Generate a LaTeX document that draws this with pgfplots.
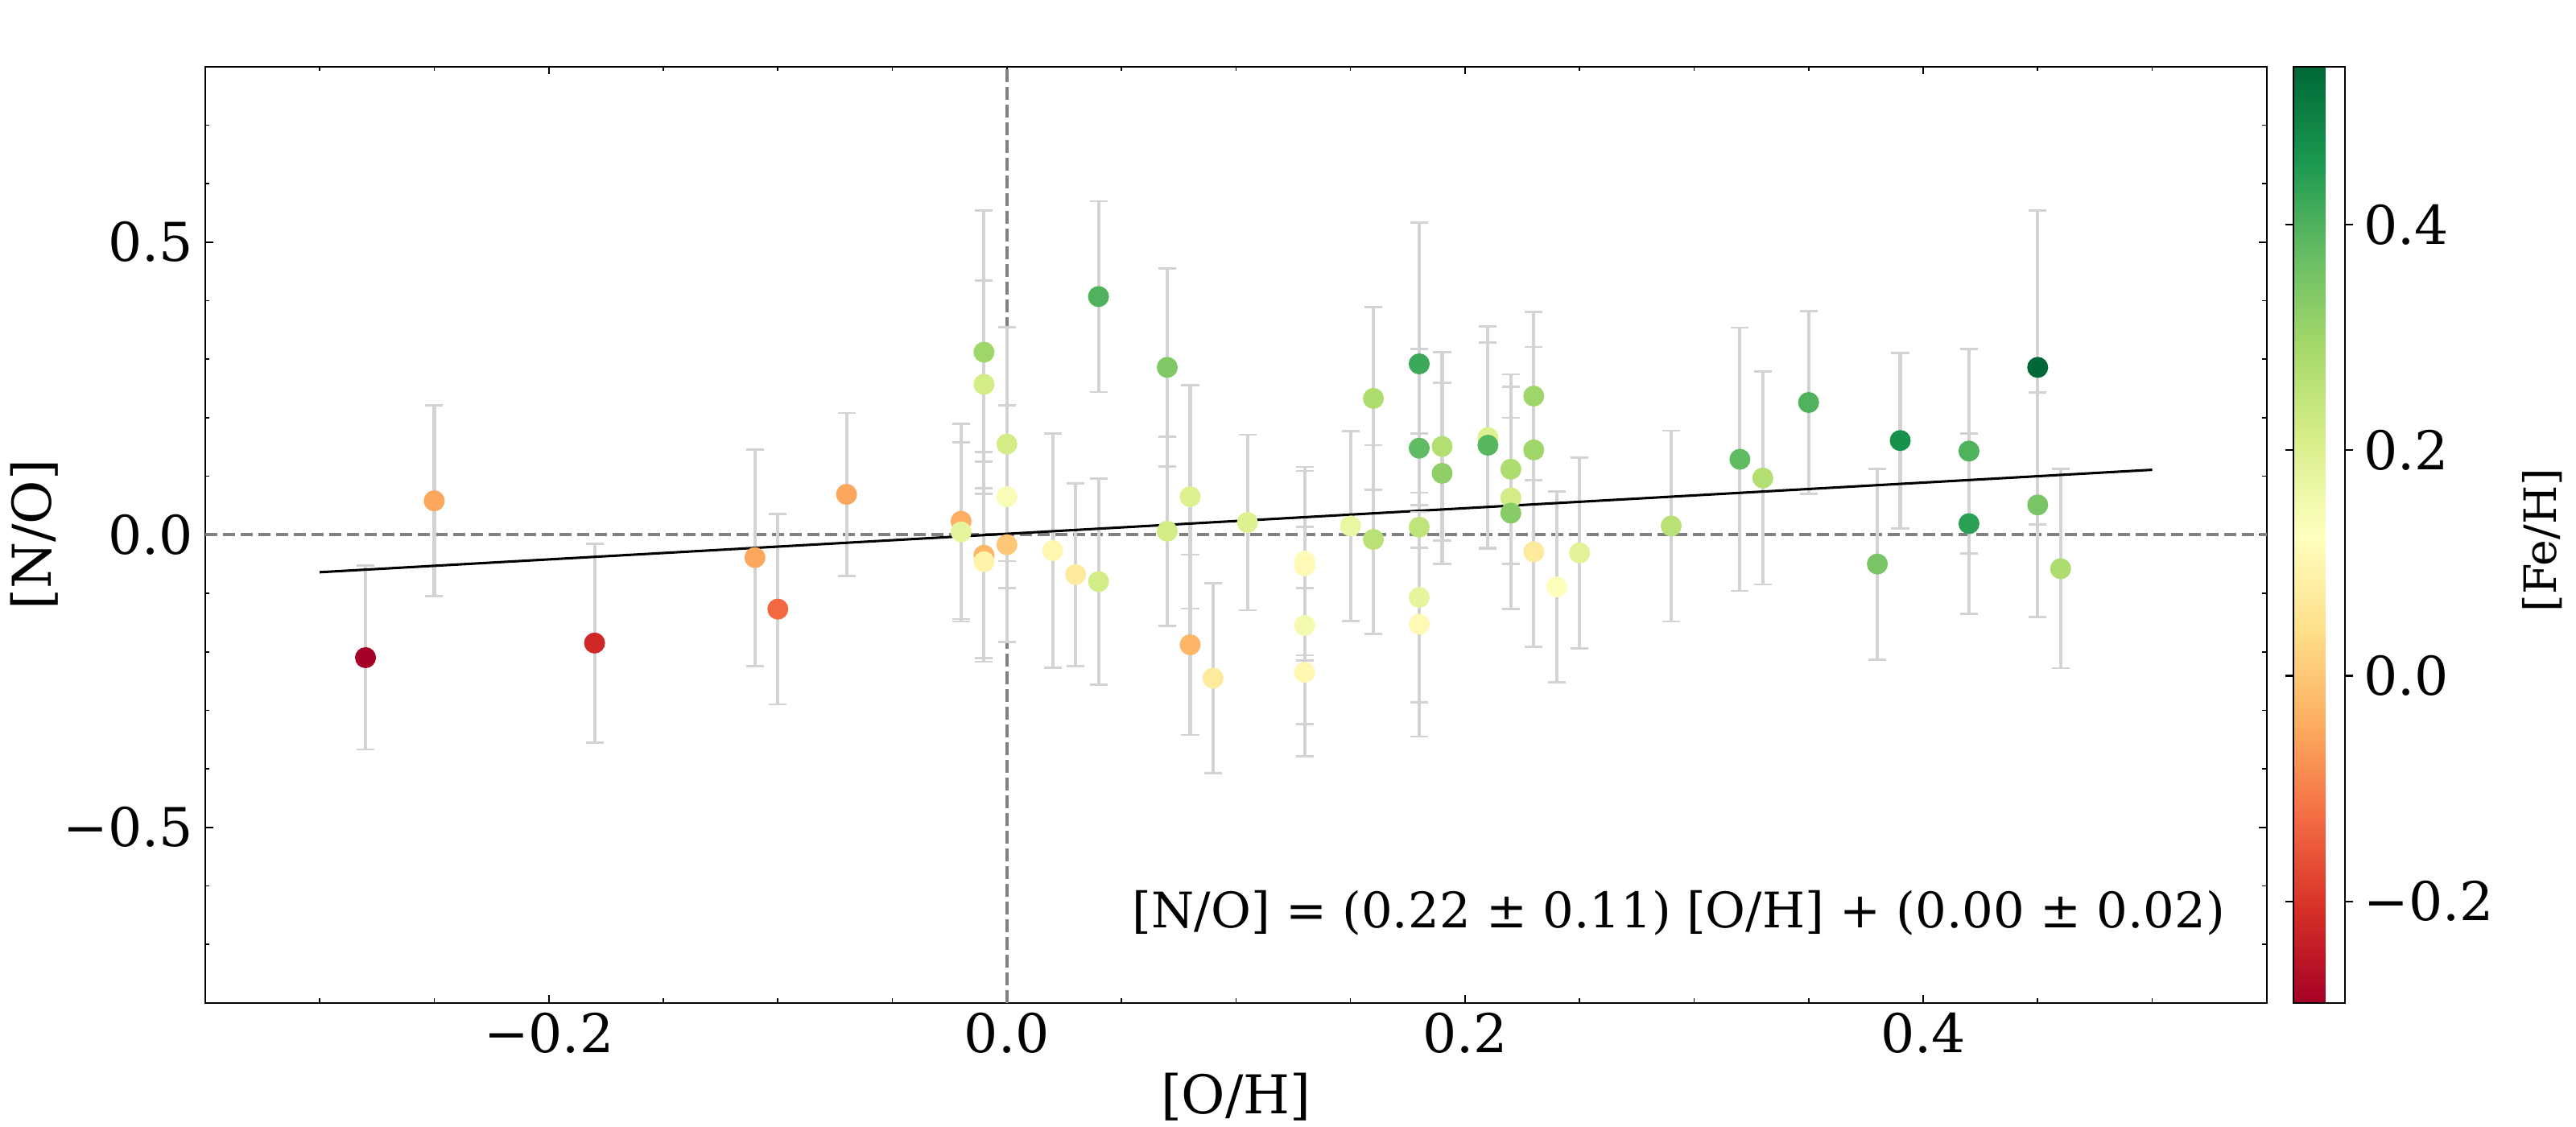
\documentclass[border=0pt]{standalone}
\usepackage{pgfplots}
\pgfplotsset{compat=1.18}
\usepackage{pgfplotstable}
\usepackage{fontspec}
\setmainfont{DejaVu Serif}
\definecolor{errgray}{RGB}{211,211,211}
\definecolor{dashgray}{RGB}{128,128,128}

\pgfplotstableread{
x y e c
-0.28 -0.210 0.157 -0.29
-0.25 0.058 0.163 -0.05
-0.18 -0.185 0.170 -0.22
-0.11 -0.039 0.185 -0.05
-0.10 -0.127 0.163 -0.13
-0.07 0.069 0.139 -0.05
-0.02 0.023 0.167 -0.04
-0.02 0.005 0.153 0.18
-0.01 0.312 0.242 0.30
-0.01 0.257 0.177 0.22
-0.01 -0.035 0.176 -0.03
-0.01 -0.046 0.171 0.09
0.00 0.155 0.200 0.22
0.00 0.065 0.156 0.14
0.00 -0.017 0.166 0.00
0.02 -0.027 0.200 0.10
0.03 -0.068 0.156 0.07
0.04 -0.080 0.176 0.22
0.04 0.407 0.163 0.40
0.07 0.286 0.169 0.34
0.07 0.006 0.162 0.22
0.08 0.065 0.191 0.20
0.08 -0.188 0.154 -0.03
0.09 -0.245 0.162 0.07
0.105 0.021 0.150 0.20
0.13 -0.045 0.161 0.12
0.13 -0.053 0.162 0.11
0.13 -0.155 0.169 0.15
0.13 -0.235 0.144 0.10
0.15 0.015 0.162 0.17
0.16 0.233 0.156 0.28
0.16 -0.008 0.161 0.26
0.18 0.292 0.241 0.42
0.18 0.148 0.170 0.38
0.18 0.013 0.160 0.25
0.18 -0.107 0.179 0.18
0.18 -0.153 0.192 0.11
0.19 0.151 0.161 0.27
0.19 0.105 0.155 0.32
0.21 0.166 0.190 0.20
0.21 0.153 0.175 0.39
0.22 0.112 0.162 0.28
0.22 0.063 0.190 0.22
0.22 0.037 0.163 0.33
0.23 0.237 0.144 0.30
0.23 0.145 0.176 0.30
0.23 -0.029 0.163 0.07
0.24 -0.089 0.163 0.13
0.25 -0.031 0.163 0.19
0.29 0.015 0.163 0.26
0.32 0.129 0.225 0.38
0.33 0.097 0.182 0.27
0.35 0.226 0.156 0.40
0.38 -0.050 0.163 0.35
0.39 0.161 0.150 0.47
0.42 0.143 0.175 0.40
0.42 0.019 0.154 0.44
0.45 0.286 0.268 0.54
0.45 0.051 0.192 0.35
0.46 -0.058 0.170 0.28
}\data

\begin{document}
\begin{tikzpicture}
\path[use as bounding box] (0,0) rectangle (1156.32pt,505.89pt);
\begin{axis}[
  at={(92.1pt,55.7pt)}, anchor=south west,
  scale only axis, width=925.4pt, height=420.3pt,
  xmin=-0.35, xmax=0.55, ymin=-0.8, ymax=0.8,
  xtick={-0.2,0,0.2,0.4}, xticklabels={−0.2,0.0,0.2,0.4},
  ytick={-0.5,0,0.5}, yticklabels={−0.5,0.0,0.5},
  minor xtick={-0.3,-0.25,-0.15,-0.1,-0.05,0.05,0.1,0.15,0.25,0.3,0.35,0.45,0.5},
  minor ytick={-0.7,-0.6,-0.4,-0.3,-0.2,-0.1,0.1,0.2,0.3,0.4,0.6,0.7},
  tick align=inside, xtick pos=both, ytick pos=both,
  major tick length=3.5pt, minor tick length=2pt,
  every tick/.style={black, line width=0.8pt},
  every minor tick/.style={black, line width=0.6pt},
  axis line style={line width=0.8pt},
  ticklabel style={font=\fontsize{24}{28}\selectfont, inner sep=0pt},
  xticklabel shift=4.3pt, yticklabel shift=5.1pt,
  xlabel={{[O/H]}}, ylabel={{[N/O]}},
  label style={font=\fontsize{24}{28}\selectfont, inner sep=0pt},
  xlabel style={at={(axis description cs:0.5,-0.0747)}, anchor=north},
  ylabel style={at={(axis description cs:-0.0828,0.5)}, anchor=center},
  colormap={RdYlGn}{rgb255=(165,0,38) rgb255=(215,48,39) rgb255=(244,109,67) rgb255=(253,174,97) rgb255=(254,224,139) rgb255=(255,255,191) rgb255=(217,239,139) rgb255=(166,217,106) rgb255=(102,189,99) rgb255=(26,152,80) rgb255=(0,104,55)},
  point meta min=-0.29, point meta max=0.54,
  colorbar,
  colorbar shift/.style={xshift=11.6pt},
  colorbar style={
    width=23.1pt,
    ytick={-0.2,0,0.2,0.4}, yticklabels={−0.2,0.0,0.2,0.4},
    minor ytick={},
    tick align=outside,
    major tick length=3.6pt,
    every tick/.style={black, line width=0.8pt},
    axis line style={line width=0.8pt},
    yticklabel style={font=\fontsize{24}{28}\selectfont, inner sep=0pt, anchor=west},
    yticklabel shift=4.7pt,
  },
]
\addplot[dashgray, line width=1.5pt, dash pattern=on 5.55pt off 2.4pt, forget plot] coordinates {(-0.35,0) (0.55,0)};
\addplot[dashgray, line width=1.5pt, dash pattern=on 5.55pt off 2.4pt, forget plot] coordinates {(0,-0.8) (0,0.8)};
\addplot[errgray, only marks, mark=none, forget plot,
  error bars/.cd, y dir=both, y explicit,
  error bar style={draw=errgray, line width=1.5pt, solid}]
  table[x=x,y=y,y error=e]{\data};
\addplot[errgray, only marks, mark=-, mark size=4pt, mark options={line width=1pt, solid}, forget plot]
  table[x=x, y expr=\thisrow{y}+\thisrow{e}]{\data};
\addplot[errgray, only marks, mark=-, mark size=4pt, mark options={line width=1pt, solid}, forget plot]
  table[x=x, y expr=\thisrow{y}-\thisrow{e}]{\data};
\addplot[scatter, only marks, mark=*, mark size=4.5pt, scatter src=explicit,
  scatter/use mapped color={draw=mapped color, fill=mapped color},
  mark options={line width=0.4pt}, forget plot]
  table[x=x,y=y,meta=c]{\data};
\addplot[black, line width=1.1pt, forget plot] coordinates {(-0.3,-0.064) (0.5,0.111)};
\node[anchor=base east, inner sep=0pt, font=\fontsize{22}{26}\selectfont] at (axis description cs:0.9801,0.0799) {[N/O] = (0.22 ± 0.11) [O/H] + (0.00 ± 0.02)};
\end{axis}
\node[rotate=90, inner sep=0pt, font=\fontsize{20}{24}\selectfont] at (1141.1pt,263.4pt) {[Fe/H]};
\end{tikzpicture}
\end{document}
